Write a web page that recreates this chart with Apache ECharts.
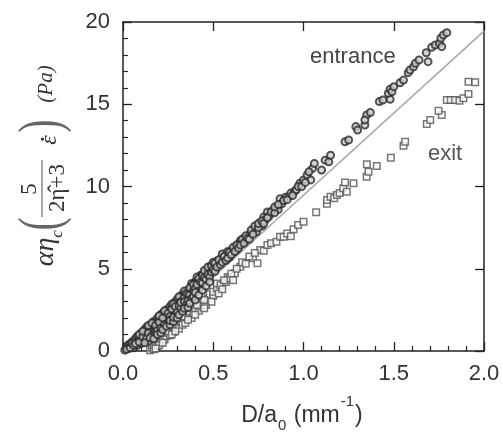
<!DOCTYPE html>
<html>
<head>
<meta charset="utf-8">
<script src="https://cdn.jsdelivr.net/npm/echarts@6/dist/echarts.min.js"></script>
<style>html,body{margin:0;padding:0;background:#fff;}#c{width:503px;height:434px;}</style>
</head>
<body>
<div id="c"></div>
<script>
// Axis ranges / ticks
const xTicks = [0, 0.5, 1.0, 1.5, 2.0];
const yTicks = [0, 5, 10, 15, 20];

// Reference line (grey) endpoints
const fitLine = [[0.05, 0], [2.0, 19.45]];

// "entrance" series (circles)
const entrance = [
[0.01,0.05],[0.02,0.25],[0.03,0.15],[0.03,0.38],[0.04,0.42],[0.05,0.3],[0.05,0.55],[0.06,0.62],[0.06,0.2],[0.07,0.55],[0.07,0.78],[0.08,0.9],[0.08,0.6],[0.08,0.35],[0.09,0.78],[0.1,1.08],[0.1,0.82],[0.1,0.45],[0.11,1.0],[0.11,0.7],[0.12,1.3],[0.12,1.05],[0.12,0.75],[0.13,1.22],[0.13,1.45],[0.13,0.95],[0.14,1.35],[0.14,0.6],[0.15,1.58],[0.15,1.3],[0.15,1.05],[0.16,1.52],[0.16,1.2],[0.17,1.8],[0.17,1.6],[0.17,1.0],[0.18,1.75],[0.18,1.35],[0.19,2.0],[0.19,1.72],[0.2,1.95],[0.2,1.5],[0.21,2.2],[0.21,2.0],[0.22,2.3],[0.22,1.7],[0.23,2.15],[0.24,2.48],[0.24,2.3],[0.24,1.85],[0.25,2.55],[0.25,2.05],[0.26,2.7],[0.26,2.45],[0.27,2.85],[0.27,2.25],[0.28,2.6],[0.28,2.4],[0.29,3.0],[0.3,2.9],[0.3,3.15],[0.3,2.55],[0.31,3.05],[0.32,3.3],[0.33,3.2],[0.33,3.45],[0.33,2.85],[0.34,3.5],[0.35,3.35],[0.35,3.62],[0.36,3.7],[0.36,3.2],[0.37,3.55],[0.38,3.9],[0.38,4.1],[0.38,3.45],[0.39,3.85],[0.4,4.2],[0.4,4.0],[0.41,4.3],[0.42,4.15],[0.42,3.8],[0.43,4.45],[0.43,4.6],[0.44,4.4],[0.45,4.7],[0.46,4.55],[0.46,4.8],[0.47,4.95],[0.48,4.7],[0.48,5.1],[0.49,5.0],[0.5,5.2],[0.51,5.05],[0.52,5.3],[0.52,5.45],[0.53,5.25],[0.54,5.5],[0.55,5.7],[0.56,5.55],[0.57,5.85],[0.58,5.9],[0.59,5.7],[0.6,6.1],[0.61,6.0],[0.62,6.3],[0.63,6.15],[0.64,6.5],[0.65,6.7],[0.66,6.55],[0.67,6.85],[0.68,6.7],[0.7,7.05],[0.71,7.2],[0.73,7.4],[0.74,7.25],[0.76,7.8],[0.77,7.6],[0.78,8.15],[0.79,8.0],[0.8,8.45],[0.81,8.2],[0.83,8.55],[0.85,8.7],[0.86,8.6],[0.87,9.25],[0.88,8.95],[0.9,9.35],[0.92,9.4],[0.93,9.6],[0.95,9.7],[0.96,9.8],[0.98,10.2],[1.0,10.4],[1.02,10.7],[1.04,10.4],[1.05,11.1],[1.06,11.4],[1.1,11.0],[1.12,11.6],[1.14,11.5],[1.15,11.9],[1.23,12.72],[1.25,12.83],[1.29,13.64],[1.3,13.43],[1.34,13.74],[1.35,14.35],[1.37,14.5],[1.34,14.04],[1.42,15.16],[1.44,15.26],[1.48,15.3],[1.47,15.67],[1.48,15.91],[1.49,15.76],[1.5,16.07],[1.535,16.31],[1.554,16.47],[1.58,16.92],[1.59,17.08],[1.61,17.28],[1.62,17.49],[1.64,17.69],[1.68,18.13],[1.69,17.59],[1.71,18.46],[1.73,18.6],[1.753,18.7],[1.766,18.5],[1.761,19.01],[1.775,19.21],[1.794,19.35],
[0.31,3.3],[0.32,3.0],[0.34,3.25],[0.34,3.65],[0.35,3.5],[0.36,3.45],[0.37,3.85],[0.37,3.4],[0.39,4.05],[0.39,3.65],[0.4,3.8],[0.41,4.05],[0.41,4.5],[0.42,4.4],[0.43,4.2],[0.44,4.6],[0.44,4.15],[0.45,4.45],[0.45,4.9],[0.46,4.35],[0.47,4.65],[0.47,5.1],[0.48,4.5],[0.49,4.8],[0.49,5.2],[0.5,4.95],[0.5,5.4],[0.51,5.35],[0.51,4.85],[0.52,5.1],[0.53,5.55],[0.54,5.25],[0.55,5.4],[0.55,5.9],[0.56,5.75],[0.57,5.5],[0.58,5.65],[0.58,6.05],[0.59,6.0],[0.6,5.85],[0.61,6.3],[0.62,6.05],[0.63,6.45],[0.64,6.25],[0.65,6.45],[0.66,6.8],[0.67,6.55],[0.68,7.0],[0.69,6.85],[0.7,6.8],[0.71,7.35],[0.72,7.1],[0.73,7.6],[0.75,7.5],[0.75,7.75],[0.77,7.9],[0.78,7.75],[0.8,8.1],[0.82,8.45],[0.84,8.4],[0.84,8.75],[0.86,8.9],[0.89,9.15],[0.91,9.2],[0.94,9.45],[0.97,10.0],[0.99,10.0],[1.01,10.25],[1.03,10.9],
[0.02,0.1],[0.04,0.2],[0.05,0.45],[0.06,0.35],[0.07,0.45],[0.09,0.55],[0.09,1.0],[0.11,0.85],[0.11,1.2],[0.13,0.75],[0.14,1.1],[0.14,1.55],[0.16,0.95],[0.16,1.7],[0.18,1.55],[0.18,1.1],[0.19,1.25],[0.2,1.75],[0.2,2.15],[0.21,1.4],[0.22,2.0],[0.23,1.6],[0.23,2.45],[0.25,2.3],[0.25,1.7],[0.26,2.1],[0.27,2.55],[0.27,1.95],[0.28,2.85],[0.29,2.2],[0.29,2.7],[0.3,2.35],[0.31,2.75],[0.32,2.6],[0.32,2.95],[0.34,3.0],[0.35,2.8],[0.36,3.05],[0.38,3.2],[0.39,3.3],[0.4,3.55],
[0.12,0.5],[0.15,0.8],[0.17,0.75],[0.19,1.0],[0.21,1.1],[0.22,1.3],[0.24,1.5],[0.26,1.6],[0.26,1.85],[0.28,1.8],[0.28,2.05],[0.3,2.0],[0.31,2.2],[0.33,2.4],[0.34,2.6],[0.36,2.65],[0.37,2.9],[0.4,3.1],[0.42,3.4],[0.44,3.7],[0.46,3.95],[0.48,4.2]
];

// "exit" series (squares)
const exitPts = [
[0.15,0.05],[0.16,0.2],[0.17,0.1],[0.17,0.35],[0.18,0.45],[0.19,0.3],[0.2,0.6],[0.21,0.5],[0.22,0.8],[0.23,0.7],[0.24,0.9],[0.25,1.1],[0.26,0.95],[0.27,1.3],[0.28,1.15],[0.29,1.45],[0.3,1.5],[0.31,1.35],[0.32,1.8],[0.33,1.6],[0.345,1.7],[0.35,2.05],[0.37,2.2],[0.38,2.0],[0.39,2.3],[0.4,2.55],[0.42,2.45],[0.43,2.7],[0.44,2.95],[0.46,2.8],[0.47,3.2],[0.48,3.45],[0.5,3.35],[0.5,3.6],[0.52,3.8],[0.52,4.1],[0.54,4.0],[0.57,4.2],[0.58,4.5],[0.59,4.4],[0.62,4.72],[0.65,5.12],[0.72,5.64],[0.745,5.33],[0.76,6.14],[0.78,6.1],[0.8,6.44],[0.82,6.55],[0.85,6.64],[0.87,6.95],[0.89,6.95],[0.91,7.15],[0.93,6.98],[0.945,7.4],[0.97,7.66],[1.0,7.86],[1.07,8.44],[1.13,8.95],[1.13,9.18],[1.15,9.38],[1.17,9.28],[1.185,9.48],[1.2,9.6],[1.22,9.89],[1.24,9.68],[1.23,10.25],[1.277,10.19],[1.35,10.6],[1.36,10.9],[1.351,11.35],[1.406,11.25],[1.484,11.75],[1.554,12.48],[1.563,12.72],[1.683,13.8],[1.702,14.04],[1.766,14.35],[1.748,14.61],[1.794,15.26],[1.816,15.26],[1.84,15.26],[1.864,15.22],[1.886,15.36],[1.914,15.62],[1.914,16.37],[1.951,16.33],
[0.33,2.1],[0.36,1.9],[0.4,2.2],[0.41,2.8],[0.45,2.6],[0.45,3.1],[0.49,3.0],[0.53,3.5],[0.55,3.75],[0.56,4.3],[0.6,4.7],[0.61,4.3],[0.63,5.0],[0.66,5.4],[0.68,5.3],[0.7,5.75],[0.73,5.95],[0.24,1.2],[0.27,1.0],[0.29,1.2],[0.2,0.35],[0.22,0.5],[0.18,0.15]
];

const seriesNames = ['entrance', 'exit'];

const chart = echarts.init(document.getElementById('c'), null, {renderer: 'canvas'});
const labelFont = {fontFamily: '"Liberation Sans", Arial, sans-serif', fontSize: 22, color: '#333'};
const axLine = {show: true, onZero: false, lineStyle: {color: '#222', width: 1.5}};
const serif = '"Liberation Serif", "DejaVu Serif", serif';

chart.setOption({
  animation: false,
  backgroundColor: '#fff',
  grid: {left: 123, right: 19, top: 22, bottom: 83, containLabel: false},
  xAxis: [
    {type: 'value', position: 'bottom', min: xTicks[0], max: xTicks[xTicks.length - 1], interval: 0.5,
     axisLine: axLine, splitLine: {show: false},
     axisTick: {show: true, inside: true, length: 9, lineStyle: {color: '#222', width: 1.3}},
     minorTick: {show: true, splitNumber: 5, length: 5, lineStyle: {color: '#222', width: 1.2}},
     axisLabel: Object.assign({margin: 12, formatter: v => v.toFixed(1)}, labelFont)},
    {type: 'value', position: 'top', min: xTicks[0], max: xTicks[xTicks.length - 1], interval: 0.5,
     axisLine: axLine, splitLine: {show: false},
     axisTick: {show: true, inside: true, length: 9, lineStyle: {color: '#222', width: 1.3}},
     axisLabel: {show: false}}
  ],
  yAxis: [
    {type: 'value', position: 'left', min: yTicks[0], max: yTicks[yTicks.length - 1], interval: 5,
     axisLine: axLine, splitLine: {show: false},
     axisTick: {show: true, inside: true, length: 9, lineStyle: {color: '#222', width: 1.3}},
     minorTick: {show: true, splitNumber: 5, length: 5, lineStyle: {color: '#222', width: 1.2}},
     axisLabel: Object.assign({margin: 13}, labelFont)},
    {type: 'value', position: 'right', min: yTicks[0], max: yTicks[yTicks.length - 1], interval: 5,
     axisLine: axLine, splitLine: {show: false},
     axisTick: {show: true, inside: true, length: 9, lineStyle: {color: '#222', width: 1.3}},
     axisLabel: {show: false}}
  ],
  series: [
    {type: 'line', data: fitLine, symbol: 'none', z: 1,
     lineStyle: {color: '#aaa', width: 1.6}},
    {name: seriesNames[1], type: 'scatter', data: exitPts, symbol: 'rect', symbolSize: 6.5, z: 2,
     itemStyle: {color: '#fff', borderColor: '#555', borderWidth: 1.5}},
    {name: seriesNames[0], type: 'scatter', data: entrance, symbol: 'circle', symbolSize: 7, z: 3,
     itemStyle: {color: '#cfcfcf', borderColor: '#2a2a2a', borderWidth: 2}}
  ],
  graphic: [
    {type: 'text', x: 310, y: 57, style: {text: seriesNames[0], font: '22px "Liberation Sans", Arial, sans-serif', fill: '#444', align: 'left', verticalAlign: 'middle'}},
    {type: 'text', x: 428, y: 154, style: {text: seriesNames[1], font: '22px "Liberation Sans", Arial, sans-serif', fill: '#555', align: 'left', verticalAlign: 'middle'}},
    {type: 'text', x: 302, y: 416, style: {
      text: 'D/a{sub|0} (mm{sup|-1})', font: '23px "Liberation Sans", Arial, sans-serif', fill: '#333', align: 'center', verticalAlign: 'middle',
      rich: {
        sub: {fontSize: 15, fontFamily: '"Liberation Sans", Arial, sans-serif', fill: '#333', lineHeight: 15, padding: [20, 1, 0, 1]},
        sup: {fontSize: 15, fontFamily: '"Liberation Sans", Arial, sans-serif', fill: '#333', lineHeight: 15, padding: [0, 1, 28, 1]}
      }}},
    {type: 'group', x: 48, y: 188, rotation: Math.PI / 2, children: [
      {type: 'text', x: -64, y: -2, style: {text: 'αη', font: 'italic 28px ' + serif, fill: '#333', align: 'center', verticalAlign: 'middle'}},
      {type: 'text', x: -46, y: 10, style: {text: 'c', font: 'italic 17px ' + serif, fill: '#333', align: 'center', verticalAlign: 'middle'}},
      {type: 'text', x: -36, y: -5, scaleX: 0.65, style: {text: '(', font: '60px ' + serif, fill: '#666', align: 'center', verticalAlign: 'middle'}},
      {type: 'line', shape: {x1: -29, y1: -6, x2: 28, y2: -6}, style: {stroke: '#888', lineWidth: 1.5}},
      {type: 'text', x: -1, y: -18, style: {text: '5', font: '23px ' + serif, fill: '#333', align: 'center', verticalAlign: 'middle'}},
      {type: 'text', x: 0, y: 10, style: {text: '2η\u0302+3', font: '23px ' + serif, fill: '#333', align: 'center', verticalAlign: 'middle'}},
      {type: 'text', x: 48, y: 2, style: {text: 'ε', font: 'italic 24px ' + serif, fill: '#333', align: 'center', verticalAlign: 'middle'}},
      {type: 'text', x: 49, y: 2, style: {text: '˙', font: 'bold 22px ' + serif, fill: '#333', align: 'center', verticalAlign: 'middle'}},
      {type: 'text', x: 62, y: -5, scaleX: 0.65, style: {text: ')', font: '60px ' + serif, fill: '#666', align: 'center', verticalAlign: 'middle'}},
      {type: 'text', x: 104, y: -2, style: {text: '(Pa)', font: 'italic 21px ' + serif, fill: '#333', align: 'center', verticalAlign: 'middle'}}
    ]}
  ]
});
</script>
</body>
</html>
